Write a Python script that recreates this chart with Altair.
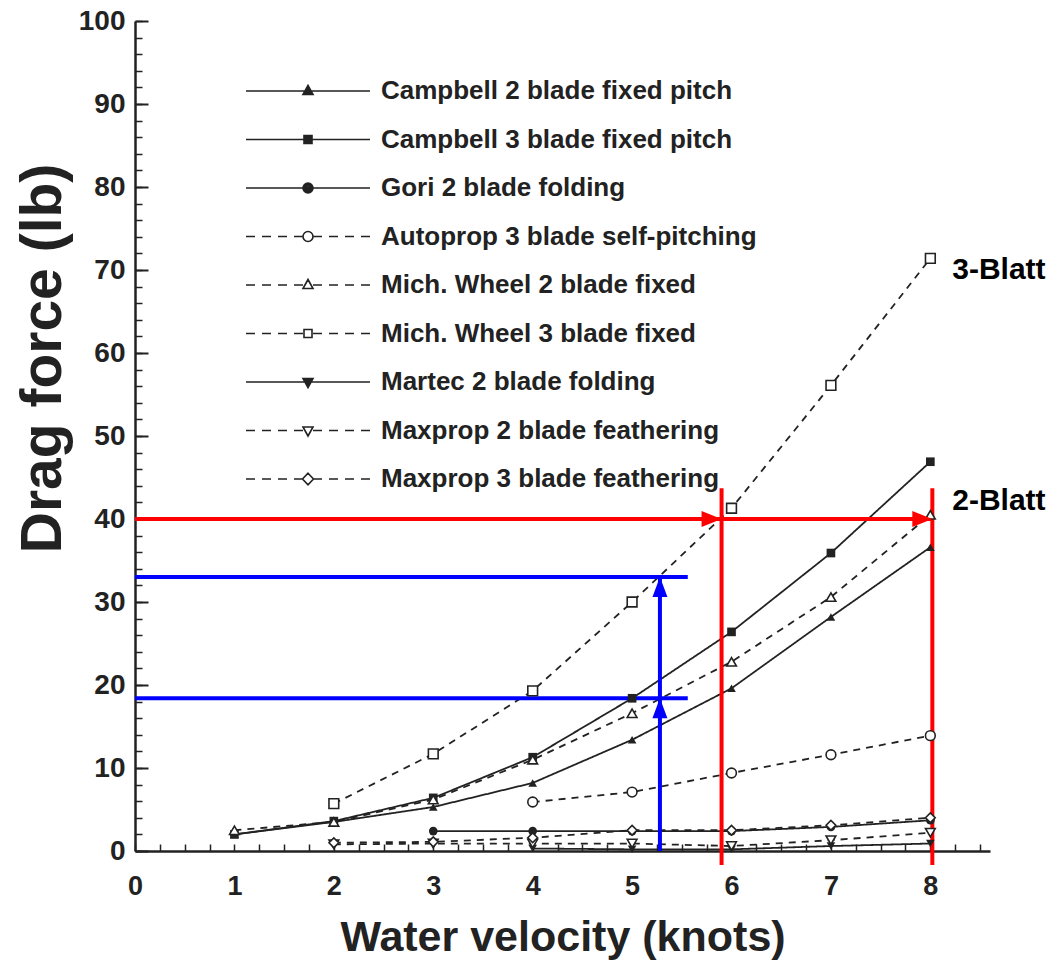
import altair as alt
import pandas as pd

# ---------------- data ----------------
series = [
    "Campbell 2 blade fixed pitch",
    "Campbell 3 blade fixed pitch",
    "Gori 2 blade folding",
    "Autoprop 3 blade self-pitching",
    "Mich. Wheel 2 blade fixed",
    "Mich. Wheel 3 blade fixed",
    "Martec 2 blade folding",
    "Maxprop 2 blade feathering",
    "Maxprop 3 blade feathering",
]
knots = [1, 2, 3, 4, 5, 6, 7, 8]
campbell2 = [2.0, 3.5, 5.3, 8.2, 13.4, 19.6, 28.2, 36.6]
campbell3 = [2.0, 3.6, 6.4, 11.3, 18.4, 26.4, 35.9, 46.9]
gori2 = [None, None, 2.4, 2.4, 2.4, 2.4, 2.9, 3.7]
autoprop3 = [None, None, None, 5.9, 7.1, 9.4, 11.6, 13.9]
mich2 = [2.5, 3.5, 6.2, 11.0, 16.6, 22.8, 30.6, 40.5]
mich3 = [None, 5.7, 11.7, 19.3, 30.0, 41.3, 56.1, 71.4]
martec2 = [None, None, None, 0.3, 0.2, 0.2, 0.6, 0.9]
maxprop2 = [None, 0.8, 0.9, 0.9, 0.9, 0.6, 1.3, 2.2]
maxprop3 = [None, 1.0, 1.1, 1.6, 2.5, 2.5, 3.1, 4.0]
all_values = [campbell2, campbell3, gori2, autoprop3, mich2, mich3, martec2, maxprop2, maxprop3]

markers = ["triangle-up", "square", "circle", "circle", "triangle-up", "square",
           "triangle-down", "triangle-down", "diamond"]
filled = [True, True, True, False, False, False, True, False, False]
dashed = [False, False, False, True, True, True, False, True, True]

# annotation lines (values in chart units)
red_h_x = [0, 5.9]
red_h_x2 = [5.9, 8.02]
red_h_y = [40, 40]
red_v_x = [5.9, 8.02]
red_v_y = [-1.7, -1.7]
red_v_y2 = [43.7, 43.7]
blue_h_y = [33.0, 18.4]
blue_h_x = [0, 0]
blue_h_x2 = [5.56, 5.56]
blue_v_x = [5.28, 5.28]
blue_v_y = [0, 18.4]
blue_v_y2 = [18.4, 33.0]
red_arrow_x = [5.9, 8.02]
red_arrow_y = [40, 40]
blue_arrow_x = [5.28, 5.28]
blue_arrow_y = [18.4, 33.0]
note_text = ["3-Blatt", "2-Blatt"]
note_x = [8.22, 8.22]
note_y = [70.0, 42.2]

# ---------------- tables ----------------
rows = []
for name, vals, f in zip(series, all_values, filled):
    for k, v in zip(knots, vals):
        if v is not None:
            rows.append({"series": name, "knots": k, "drag": v, "filled": f})
df = pd.DataFrame(rows)

W, H = 855, 830
FONT = "Liberation Sans Narrow, Liberation Sans, Arial"
INK = "#222222"

xs = alt.Scale(domain=[0, 8.6], nice=False, zero=False)
ys = alt.Scale(domain=[0, 100], nice=False, zero=False)

# legend symbol paths: line sample + marker (filled markers drawn as nested outlines)
unit_poly = {
    "triangle-up": [(0, -1.1), (1, 0.7), (-1, 0.7)],
    "square": [(-0.8, -0.8), (0.8, -0.8), (0.8, 0.8), (-0.8, 0.8)],
    "diamond": [(0, -1.15), (1.1, 0), (0, 1.15), (-1.1, 0)],
    "triangle-down": [(0, 1.1), (1, -0.7), (-1, -0.7)],
}
def marker_path(m, k):
    if m == "circle":
        r = 1.0 * k
        return f"M{-r:.2f},0A{r:.2f},{r:.2f} 0 1,0 {r:.2f},0A{r:.2f},{r:.2f} 0 1,0 {-r:.2f},0Z"
    pts = unit_poly[m]
    return "M" + "L".join(f"{x * k:.2f},{y * k:.2f}" for x, y in pts) + "Z"

def legend_path(m, d, f):
    if d:
        segs = []
        for a in [-12.4, -9.2, -6.0, -2.8]:
            segs.append(f"M{a:.1f},0H{a + 1.8:.1f}")
        for a in [1.0, 4.2, 7.4, 10.6]:
            segs.append(f"M{a:.1f},0H{a + 1.8:.1f}")
        line = "".join(segs)
    else:
        line = "M-12.4,0H12.4"
    scales = [1.0, 0.72, 0.44, 0.16] if f else [1.0]
    return line + "".join(marker_path(m, k) for k in scales)

legend_paths = [legend_path(m, d, f) for m, d, f in zip(markers, dashed, filled)]
dash_range = [[7, 6] if d else [1, 0] for d in dashed]

base = alt.Chart(df)

# lines
lines = base.mark_line(strokeWidth=1.8, color=INK).encode(
    x=alt.X("knots:Q", scale=xs, axis=alt.Axis(
        values=list(range(9)), format="d", ticks=False, tickSize=0, labelPadding=22,
        labelFont=FONT, labelFontSize=27, labelFontWeight="bold", labelColor=INK,
        title="Water velocity (knots)", titleFont=FONT, titleFontSize=43, titleFontWeight="bold",
        titleColor=INK, titleY=86, titleBaseline="middle", domainWidth=2.5, domainColor=INK,
        grid=False, labelFlush=False)),
    y=alt.Y("drag:Q", scale=ys, axis=alt.Axis(
        values=list(range(0, 101, 10)), ticks=False, tickSize=0, labelPadding=10,
        labelFont=FONT, labelFontSize=28, labelFontWeight="bold", labelColor=INK,
        title="Drag force (lb)", titleFont=FONT, titleFontSize=57, titleFontWeight="bold",
        titleColor=INK, titleX=-92, titleY=337, titleAngle=-90, titleBaseline="middle",
        titleAlign="center", domainWidth=2.5, domainColor=INK, grid=False, labelFlush=False)),
    strokeDash=alt.StrokeDash("series:N", scale=alt.Scale(domain=series, range=dash_range), legend=None),
    detail="series:N",
)

# markers (filled and open)
pts_filled = base.transform_filter("datum.filled").mark_point(
    filled=True, size=75, color=INK, opacity=1).encode(
    x=alt.X("knots:Q", scale=xs, axis=alt.Axis(
        orient="top", offset=-H, values=[i * 0.25 for i in range(35)], labels=False,
        domain=False, tickSize=7, tickWidth=1.5, tickColor=INK, title=None, grid=False)),
    y=alt.Y("drag:Q", scale=ys, axis=alt.Axis(
        orient="right", offset=-W, values=list(range(0, 101, 10)), labels=False,
        domain=False, tickSize=13, tickWidth=2, tickColor=INK, title=None, grid=False)),
    shape=alt.Shape("series:N", scale=alt.Scale(domain=series, range=markers), legend=None),
)
pts_open = base.transform_filter("!datum.filled").mark_point(
    filled=True, size=95, fill="white", stroke=INK, strokeWidth=1.6, opacity=1).encode(
    x=alt.X("knots:Q", scale=xs, axis=None),
    y=alt.Y("drag:Q", scale=ys, axis=None),
    shape=alt.Shape("series:N", scale=alt.Scale(domain=series, range=markers), legend=None),
)

# legend layer (invisible marks, library legend)
leg = alt.Legend(
    orient="none", legendX=112, legendY=57, title=None, padding=0,
    labelFont=FONT, labelFontSize=26, labelFontWeight="bold", labelColor=INK, labelLimit=0,
    symbolSize=100, symbolStrokeWidth=1.6, symbolStrokeColor=INK, symbolFillColor="white",
    symbolOpacity=1, symbolOffset=48, labelOffset=60, rowPadding=22.5)
legend_layer = base.mark_point(filled=False, opacity=0, color=INK, strokeWidth=1.6).encode(
    x=alt.X("knots:Q", scale=xs, axis=None),
    y=alt.Y("drag:Q", scale=ys, axis=None),
    shape=alt.Shape("series:N", scale=alt.Scale(domain=series, range=legend_paths), legend=leg),
)

# annotations
red_h = alt.Chart(pd.DataFrame({"x": red_h_x, "x2": red_h_x2, "y": red_h_y})).mark_rule(
    color="#ff0000", strokeWidth=4).encode(
    x=alt.X("x:Q", scale=xs, axis=None), x2="x2:Q", y=alt.Y("y:Q", scale=ys, axis=None))
red_v = alt.Chart(pd.DataFrame({"x": red_v_x, "y": red_v_y, "y2": red_v_y2})).mark_rule(
    color="#ff0000", strokeWidth=4).encode(
    x=alt.X("x:Q", scale=xs, axis=None),
    y=alt.Y("y:Q", scale=ys, axis=alt.Axis(
        orient="right", offset=-W, values=list(range(0, 101, 2)), labels=False,
        domain=False, tickSize=7, tickWidth=1.5, tickColor=INK, title=None, grid=False)),
    y2="y2:Q")
blue_h = alt.Chart(pd.DataFrame({"x": blue_h_x, "x2": blue_h_x2, "y": blue_h_y})).mark_rule(
    color="#0000ff", strokeWidth=4).encode(
    x=alt.X("x:Q", scale=xs, axis=None), x2="x2:Q", y=alt.Y("y:Q", scale=ys, axis=None))
blue_v = alt.Chart(pd.DataFrame({"x": blue_v_x, "y": blue_v_y, "y2": blue_v_y2})).mark_rule(
    color="#0000ff", strokeWidth=4).encode(
    x=alt.X("x:Q", scale=xs, axis=None), y=alt.Y("y:Q", scale=ys, axis=None), y2="y2:Q")
red_arr = alt.Chart(pd.DataFrame({"x": red_arrow_x, "y": red_arrow_y})).mark_point(
    filled=True, color="#ff0000", opacity=1, size=400,
    shape="M0,0L-2,-0.8L-2,0.8Z").encode(
    x=alt.X("x:Q", scale=xs, axis=None), y=alt.Y("y:Q", scale=ys, axis=None))
blue_arr = alt.Chart(pd.DataFrame({"x": blue_arrow_x, "y": blue_arrow_y})).mark_point(
    filled=True, color="#0000ff", opacity=1, size=400,
    shape="M0,0L-0.75,2L0.75,2Z").encode(
    x=alt.X("x:Q", scale=xs, axis=None), y=alt.Y("y:Q", scale=ys, axis=None))
notes = alt.Chart(pd.DataFrame({"t": note_text, "x": note_x, "y": note_y})).mark_text(
    align="left", baseline="middle", font="Liberation Sans, Arial", fontSize=30,
    fontWeight="bold", color="black").encode(
    x=alt.X("x:Q", scale=xs, axis=None), y=alt.Y("y:Q", scale=ys, axis=None), text="t:N")

chart = alt.layer(
    lines, red_v, legend_layer, red_h, blue_h, blue_v, pts_filled, pts_open,
    red_arr, blue_arr, notes
).resolve_axis(x="independent", y="independent").resolve_scale(
    shape="independent"
).properties(
    width=W, height=H,
    padding={"left": 135, "top": 21, "right": 1059 - 135 - W, "bottom": 967 - 21 - H},
    autosize=alt.AutoSizeParams(type="none"),
    background="white",
).configure_view(stroke=None).configure_axis(grid=False)

chart.save("out.html", embed_options={"renderer": "svg", "actions": False})
